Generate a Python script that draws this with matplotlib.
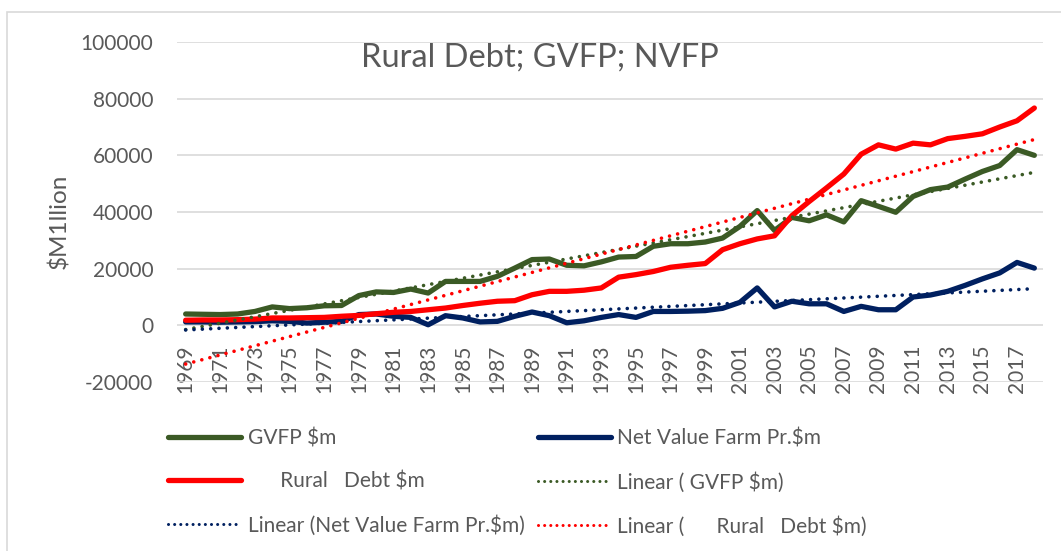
import numpy as np
import matplotlib
matplotlib.use('Agg')
import matplotlib.pyplot as plt
from matplotlib.lines import Line2D
from matplotlib.patches import Rectangle

YEARS = list(range(1969, 2019))

GVFP = [
    4000, 3900, 3800, 4000, 4900, 6500, 5900, 6200, 6900, 7000,
    10500, 11800, 11600, 12800, 11400, 15500, 15500, 15500, 17300, 20200,
    23200, 23400, 21200, 21000, 22400, 24100, 24300, 27900, 28800, 28800,
    29400, 30800, 34900, 40500, 33500, 38100, 36900, 39000, 36500, 44000,
    42000, 39900, 45500, 47900, 48800, 51600, 54300, 56400, 62000, 60000,
]
NET_VALUE = [
    1200, 1200, 1100, 1200, 1300, 1600, 1400, 800, 1100, 1400,
    3800, 4000, 3200, 2800, 200, 3400, 2600, 1200, 1400, 3200,
    4700, 3400, 900, 1600, 2800, 3800, 2800, 4900, 4900, 5000,
    5200, 6000, 8100, 13200, 6500, 8500, 7600, 7600, 4900, 6700,
    5500, 5500, 10000, 10700, 12000, 14100, 16400, 18500, 22200, 20200,
]
RURAL_DEBT = [
    1800, 1900, 1900, 2000, 2200, 2600, 2600, 2700, 2800, 3200,
    3500, 4100, 4600, 4900, 5500, 6100, 7000, 7800, 8500, 8700,
    10800, 12000, 12000, 12400, 13200, 17000, 17900, 19000, 20500, 21200,
    21800, 26700, 28800, 30500, 31600, 38700, 43700, 48500, 53400, 60400,
    63700, 62200, 64300, 63700, 65900, 66700, 67600, 70000, 72200, 76700,
]
Y_TICKS = [-20000, 0, 20000, 40000, 60000, 80000, 100000]

GREEN = '#3b5a25'
NAVY = '#002060'
RED = '#ff0000'
TEXT = '#595959'

plt.rcParams['font.family'] = ['Lato', 'DejaVu Sans']

fig = plt.figure(figsize=(10.61, 5.51), dpi=100)
W, H = 1061, 551
ax = fig.add_axes([177 / W, 1 - 382 / H, (1043 - 177) / W, (382 - 42) / H])

x = np.arange(len(YEARS))
lw = 3.8
ax.plot(x, GVFP, color=GREEN, lw=lw, solid_capstyle='round', zorder=3)
ax.plot(x, NET_VALUE, color=NAVY, lw=lw, solid_capstyle='round', zorder=3)
ax.plot(x, RURAL_DEBT, color=RED, lw=lw, solid_capstyle='round', zorder=3)

dot = dict(lw=2.6, linestyle=(0, (0.01, 2.3)), dash_capstyle='round', zorder=4)
xt = x + 1
for series, color in [(GVFP, GREEN), (NET_VALUE, NAVY), (RURAL_DEBT, RED)]:
    k, b = np.polyfit(xt, series, 1)
    ax.plot(x, k * xt + b, color=color, **dot)

for s in ax.spines.values():
    s.set_visible(False)
ax.spines['bottom'].set_position(('data', 0))

ax.set_xlim(-0.5, len(YEARS) - 0.5)
ax.set_ylim(-20000, 100000)
ax.set_yticks(Y_TICKS)
ax.set_yticklabels([str(v) for v in Y_TICKS])
ax.set_xticks(x[::2])
ax.set_xticklabels([str(y) for y in YEARS[::2]])
ax.grid(axis='y', color='#d9d9d9', lw=1.2, zorder=0)
ax.tick_params(axis='both', length=0, colors=TEXT, labelsize=15)
ax.tick_params(axis='x', pad=14, labelrotation=90)
ax.tick_params(axis='y', pad=17)
ax.set_ylabel('$M1llion', color=TEXT, fontsize=17.5)
ax.yaxis.set_label_coords(-0.1236, 0.4735)

fig.text(540 / W, 1 - 58 / H, 'Rural Debt; GVFP; NVFP', ha='center', va='center',
         color=TEXT, fontsize=23.5)

h_gvfp = Line2D([], [], color=GREEN, lw=lw, solid_capstyle='round')
h_nv = Line2D([], [], color=NAVY, lw=lw, solid_capstyle='round')
h_rd = Line2D([], [], color=RED, lw=lw, solid_capstyle='round')
d_gvfp = Line2D([], [], color=GREEN, lw=2.2, linestyle=(0, (0.01, 2.0)), dash_capstyle='round')
d_nv = Line2D([], [], color=NAVY, lw=2.2, linestyle=(0, (0.01, 2.0)), dash_capstyle='round')
d_rd = Line2D([], [], color=RED, lw=2.2, linestyle=(0, (0.01, 2.0)), dash_capstyle='round')
handles = [h_gvfp, h_rd, d_nv, h_nv, d_gvfp, d_rd]
labels = ['GVFP $m', '      Rural   Debt $m', 'Linear (Net Value Farm Pr.$m)',
          'Net Value Farm Pr.$m', 'Linear ( GVFP $m)', 'Linear (      Rural   Debt $m)']
fig.legend(handles, labels, ncol=2, loc='upper left', bbox_to_anchor=(158 / W, 1 - 418 / H),
           frameon=False, fontsize=15, labelcolor=TEXT, handlelength=3.5,
           handletextpad=0.3, columnspacing=0.65, labelspacing=1.12, borderpad=0)

fig.patches.append(Rectangle((7 / W, -0.01), 1.2, 1 - 12 / H + 0.01, transform=fig.transFigure,
                             fill=False, edgecolor='#d9d9d9', lw=1.2))

fig.savefig('out.png', dpi=100)
